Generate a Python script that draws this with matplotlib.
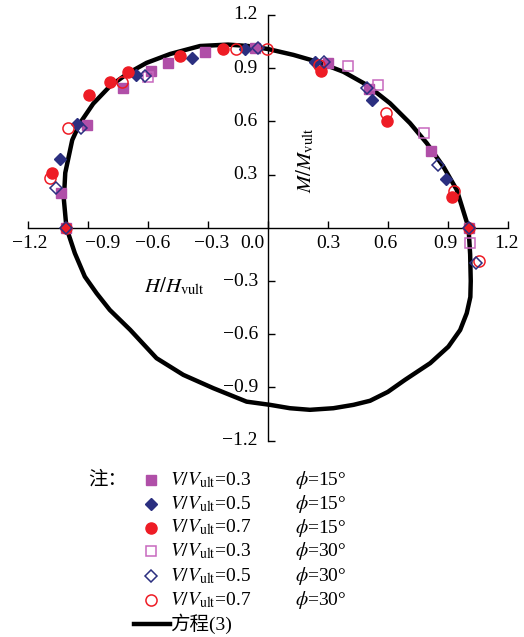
import matplotlib
matplotlib.use("Agg")
import matplotlib.pyplot as plt

plt.rcParams['font.family'] = ['Liberation Serif', 'Noto Sans CJK SC']
plt.rcParams['mathtext.fontset'] = 'stix'

# ---- data ----
curve_h = [-1.009, -1.022, -1.015, -0.98, -0.942, -0.875, -0.79, -0.70, -0.608, -0.49,
           -0.34, -0.2, -0.1, 0.0, 0.127, 0.244, 0.377, 0.494, 0.611, 0.711, 0.795,
           0.878, 0.945, 1.004, 1.012, 1.015, 1.013, 0.995, 0.962, 0.903, 0.812, 0.686,
           0.6, 0.511, 0.428, 0.327, 0.21, 0.11, 0.01, -0.107, -0.274, -0.424, -0.558,
           -0.62, -0.69, -0.792, -0.858, -0.917, -0.967, -1.009]
curve_m = [0.0, 0.16, 0.31, 0.495, 0.589, 0.70, 0.80, 0.872, 0.93, 0.98,
           1.025, 1.033, 1.025, 1.008, 0.975, 0.937, 0.88, 0.806, 0.702, 0.59, 0.477,
           0.345, 0.214, 0.0, -0.15, -0.3, -0.39, -0.481, -0.576, -0.67, -0.763, -0.857,
           -0.925, -0.975, -0.998, -1.017, -1.026, -1.017, -0.998, -0.98, -0.904, -0.829,
           -0.735, -0.66, -0.575, -0.463, -0.369, -0.275, -0.143, 0.0]

# V/Vult=0.3, phi=15 (filled square)
s1_h = [-1.009, -1.034, -0.908, -0.728, -0.586, -0.5, -0.316, -0.065, 0.302, 0.507, 0.815, 1.004]
s1_m = [0.0, 0.198, 0.58, 0.787, 0.886, 0.928, 0.993, 1.012, 0.931, 0.781, 0.435, 0.0]
# V/Vult=0.5, phi=15 (filled diamond)
s2_h = [-1.039, -0.958, -0.661, -0.382, -0.115, 0.235, 0.52, 0.892]
s2_m = [0.387, 0.586, 0.862, 0.956, 1.008, 0.937, 0.721, 0.274]
# V/Vult=0.7, phi=15 (filled circle)
s3_h = [-1.009, -1.08, -0.897, -0.79, -0.70, -0.441, -0.224, 0.264, 0.595, 0.92, 1.004]
s3_m = [0.0, 0.308, 0.749, 0.82, 0.877, 0.969, 1.007, 0.886, 0.604, 0.172, 0.0]
# V/Vult=0.3, phi=30 (open square)
s4_h = [-0.60, 0.402, 0.55, 0.782, 1.009]
s4_m = [0.852, 0.913, 0.804, 0.533, -0.083]
# V/Vult=0.5, phi=30 (open diamond)
s5_h = [-1.009, -1.062, -0.934, -0.616, -0.048, 0.28, 0.497, 0.853, 1.004, 1.042]
s5_m = [0.0, 0.223, 0.561, 0.856, 1.012, 0.937, 0.79, 0.355, 0.0, -0.196]
# V/Vult=0.7, phi=30 (open circle)
s6_h = [-1.089, -1.0, -0.731, -0.162, -0.007, 0.257, 0.591, 0.932, 1.057]
s6_m = [0.28, 0.561, 0.82, 1.007, 1.008, 0.918, 0.649, 0.21, -0.185]

xticks = [-1.2, -0.9, -0.6, -0.3, 0.0, 0.3, 0.6, 0.9, 1.2]
xtick_labels = ['−1.2', '−0.9', '−0.6', '−0.3', '0.0', '0.3', '0.6', '0.9', '1.2']
yticks = [1.2, 0.9, 0.6, 0.3, -0.3, -0.6, -0.9, -1.2]
ytick_labels = ['1.2', '0.9', '0.6', '0.3', '−0.3', '−0.6', '−0.9', '−1.2']

legend_v = [r'$V/V_{\mathrm{ult}}$=0.3', r'$V/V_{\mathrm{ult}}$=0.5', r'$V/V_{\mathrm{ult}}$=0.7',
            r'$V/V_{\mathrm{ult}}$=0.3', r'$V/V_{\mathrm{ult}}$=0.5', r'$V/V_{\mathrm{ult}}$=0.7']
legend_phi = [r'$\phi$=15°', r'$\phi$=15°', r'$\phi$=15°',
              r'$\phi$=30°', r'$\phi$=30°', r'$\phi$=30°']
legend_curve = '方程(3)'
note_text = '注：'

MAG = '#b04fa8'
MAG_L = '#c768be'
NAVY = '#2b2f80'
RED = '#ee1c25'

fig = plt.figure(figsize=(5.24, 6.37), dpi=100)

# overlay axes in pixel units for the legend block
lax = fig.add_axes([0, 0, 1, 1])
lax.set_xlim(0, 524)
lax.set_ylim(637, 0)
lax.axis('off')

ax = fig.add_axes([0.054, 0.3082, 0.9149, 0.6683])
ax.set_xlim(-1.2, 1.2)
ax.set_ylim(-1.2, 1.2)
ax.patch.set_visible(False)

ax.plot(curve_h, curve_m, color='black', lw=3.2, solid_joinstyle='round', zorder=2)

styles = [
    dict(marker='s', ms=7.5, mfc=MAG, mec=MAG, mew=1),
    dict(marker='D', ms=6.5, mfc=NAVY, mec=NAVY, mew=1),
    dict(marker='o', ms=8, mfc=RED, mec=RED, mew=1),
    dict(marker='s', ms=7.5, mfc='none', mec=MAG_L, mew=1.1),
    dict(marker='D', ms=6.5, mfc='none', mec=NAVY, mew=1.1),
    dict(marker='o', ms=8, mfc='none', mec=RED, mew=1.1),
]
series = [(s1_h, s1_m), (s4_h, s4_m), (s2_h, s2_m), (s3_h, s3_m), (s6_h, s6_m), (s5_h, s5_m)]
order = [0, 3, 1, 2, 5, 4]
for (h, m), idx in zip(series, order):
    ax.plot(h, m, ls='none', clip_on=False, zorder=3, **styles[idx])

# spines at zero
for s in ['top', 'right']:
    ax.spines[s].set_visible(False)
ax.spines['left'].set_position(('data', 0))
ax.spines['bottom'].set_position(('data', 0))
for s in ['left', 'bottom']:
    ax.spines[s].set_linewidth(1.0)
ax.set_xticks(xticks)
ax.set_yticks(yticks)
ax.tick_params(axis='both', direction='in', length=5, width=1,
               labelbottom=False, labelleft=False)

fs = 14
xdx = [1, 14, 4, 4, -16, 0, -2, -2, -1]
for v, lab, dx in zip(xticks, xtick_labels, xdx):
    ax.annotate(lab, (v, 0), xytext=(dx, -7), textcoords='offset pixels',
                ha='center', va='top', fontsize=fs, annotation_clip=False)
for v, lab in zip(yticks, ytick_labels):
    ax.annotate(lab, (0, v), xytext=(-10, 0), textcoords='offset pixels',
                ha='right', va='center', fontsize=fs, annotation_clip=False)

ax.text(0.185, 0.38, r'$M/M_{\mathrm{vult}}$', rotation=90, ha='center', va='center',
        fontsize=15)
ax.text(-0.47, -0.333, r'$H/H_{\mathrm{vult}}$', ha='center', va='center', fontsize=15)

# legend block (pixel layout)
row_y = [480, 503.8, 527.6, 551.4, 575.8, 600.2]
for y, st, lv, lp in zip(row_y, styles, legend_v, legend_phi):
    lax.plot([151], [y], ls='none', **st)
    lax.text(170, y, lv, ha='left', va='center', fontsize=fs)
    lax.text(295, y, lp, ha='left', va='center', fontsize=fs)
lax.plot([134, 170], [624, 624], color='black', lw=3.2)
lax.text(170, 624, legend_curve, ha='left', va='center', fontsize=fs)
lax.text(88, 479, note_text, ha='left', va='center', fontsize=fs,
         family=['Noto Sans CJK SC'])

fig.savefig('out.png', dpi=100)
